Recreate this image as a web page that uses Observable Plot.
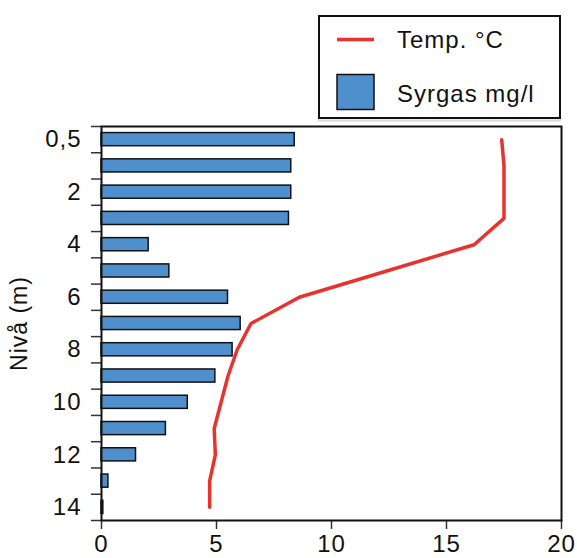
<!DOCTYPE html>
<html>
<head>
<meta charset="utf-8">
<script src="https://cdn.jsdelivr.net/npm/d3@7"></script>
<script src="https://cdn.jsdelivr.net/npm/@observablehq/plot@0.6"></script>
<style>
  html, body { margin: 0; padding: 0; background: #fff; }
  #wrap { position: relative; width: 577px; height: 558px; font-family: "Liberation Sans", Arial, sans-serif; }
  #legend { position: absolute; left: 0; top: 0; pointer-events: none; }
  #wrap svg text { letter-spacing: 1px; }
</style>
</head>
<body>
<div id="wrap"></div>
<script>
// Depth levels (m)
const levels = [0.5, 1, 2, 3, 4, 5, 6, 7, 8, 9, 10, 11, 12, 13, 14];
// Dissolved oxygen, mg/l
const oxygen = [8.4, 8.25, 8.25, 8.15, 2.05, 2.95, 5.5, 6.05, 5.7, 4.95, 3.75, 2.8, 1.5, 0.3, 0.08];
// Temperature, °C
const temp = [17.4, 17.5, 17.5, 17.5, 16.2, 12.4, 8.6, 6.5, 5.9, 5.5, 5.2, 4.9, 4.95, 4.7, 4.7];
// Axis ticks
const xTicks = [0, 5, 10, 15, 20];
const labelledLevels = [0.5, 2, 4, 6, 8, 10, 12, 14];
const seriesNames = ["Temp. °C", "Syrgas mg/l"];
const yTitle = "Nivå (m)";

const BLUE = "#4F8FCC";
const RED = "#E8322E";
const FONT = "Liberation Sans, Arial, sans-serif";

const data = levels.map((l, i) => ({i, level: l, o: oxygen[i], t: temp[i]}));
const fmt = v => String(v).replace(".", ",");
const labelIdx = labelledLevels.map(l => levels.indexOf(l));
const boundaries = d3.range(levels.length + 1).map(k => k - 0.5);

const chart = Plot.plot({
  width: 577,
  height: 558,
  marginLeft: 101,
  marginRight: 16,
  marginTop: 126,
  marginBottom: 38,
  style: {fontFamily: FONT, fontSize: "24px", color: "#111", background: "#fff"},
  x: {domain: [0, 20]},
  y: {domain: [levels.length - 0.5, -0.5]},
  marks: [
    Plot.rectX(data, {x: "o", y1: d => d.i - 0.25, y2: d => d.i + 0.25, fill: BLUE, stroke: "#111", strokeWidth: 1.5}),
    Plot.lineX(data, {x: "t", y: "i", stroke: RED, strokeWidth: 3.5, strokeLinejoin: "miter"}),
    Plot.axisX({ticks: xTicks, tickSize: 9, tickPadding: 5, tickFormat: d => fmt(d), stroke: "#333", strokeWidth: 1.5, label: null, fontSize: 24}),
    Plot.axisY({ticks: boundaries, tickSize: 10, tickFormat: () => "", stroke: "#333", strokeWidth: 1.5, label: null}),
    Plot.axisY({ticks: labelIdx, tickSize: 0, tickPadding: 20, tickFormat: i => fmt(levels[i]), label: null, fontSize: 24}),
    Plot.frame({stroke: "#111", strokeWidth: 2}),
    Plot.text([yTitle], {frameAnchor: "left", textAnchor: "middle", dx: -82, rotate: -90, fontSize: 23, fill: "#111", text: d => d})
  ]
});
document.getElementById("wrap").appendChild(chart);

// Legend overlay
const svg = d3.select("#wrap").append("svg")
  .attr("id", "legend").attr("width", 577).attr("height", 130)
  .style("font-family", FONT);
svg.append("line").attr("x1", 318).attr("x2", 561).attr("y1", 120.5).attr("y2", 120.5)
  .attr("stroke", "#d8d8d8").attr("stroke-width", 2);
svg.append("rect").attr("x", 319).attr("y", 16).attr("width", 241).attr("height", 102)
  .attr("fill", "#fff").attr("stroke", "#111").attr("stroke-width", 2);
svg.append("line").attr("x1", 337).attr("x2", 374).attr("y1", 39.5).attr("y2", 39.5)
  .attr("stroke", RED).attr("stroke-width", 3.5);
svg.append("rect").attr("x", 337).attr("y", 74.5).attr("width", 37).attr("height", 35)
  .attr("fill", BLUE).attr("stroke", "#111").attr("stroke-width", 1.5);
svg.append("text").attr("x", 397).attr("y", 47.5).attr("font-size", 24).attr("fill", "#111").text(seriesNames[0]);
svg.append("text").attr("x", 397).attr("y", 101.5).attr("font-size", 24).attr("fill", "#111").text(seriesNames[1]);
</script>
</body>
</html>
